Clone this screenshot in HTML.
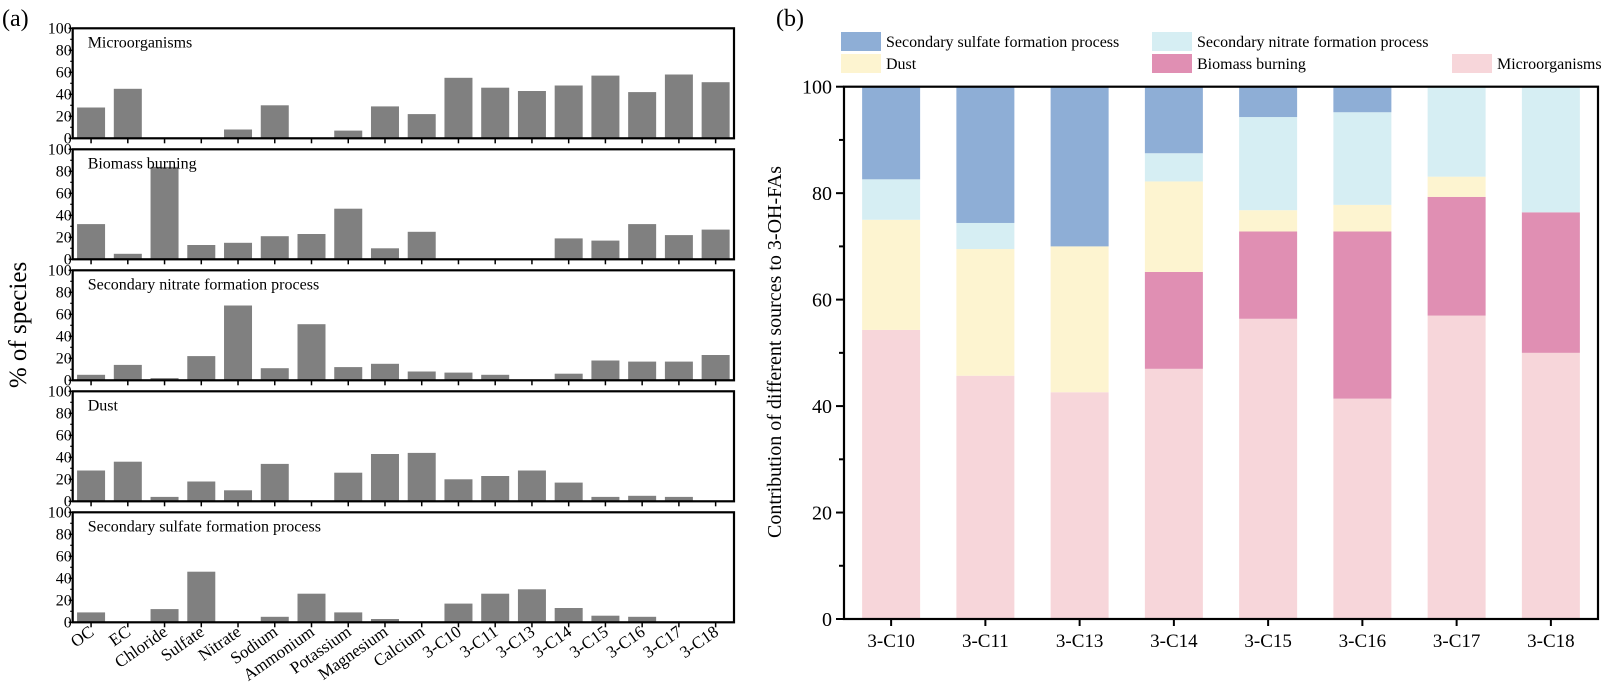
<!DOCTYPE html>
<html><head><meta charset="utf-8"><style>
html,body{margin:0;padding:0;background:#fff;}
svg{display:block;font-family:"Liberation Serif",serif;}
</style></head><body>
<svg id="chart" width="1613" height="688" viewBox="0 0 1613 688" xmlns="http://www.w3.org/2000/svg">
<text x="2" y="26" font-size="24">(a)</text>
<text x="776" y="26" font-size="24">(b)</text>
<text transform="translate(26,325) rotate(-90)" text-anchor="middle" font-size="25">% of species</text>
<text transform="translate(781,352) rotate(-90)" text-anchor="middle" font-size="20">Contribution of different sources to 3-OH-FAs</text>
<g id="left"></g><g id="right"></g><g id="legend"></g>
</svg>
<script>
const species = ["OC","EC","Chloride","Sulfate","Nitrate","Sodium","Ammonium","Potassium","Magnesium","Calcium","3-C10","3-C11","3-C13","3-C14","3-C15","3-C16","3-C17","3-C18"];
const panelTitles = ["Microorganisms","Biomass burning","Secondary nitrate formation process","Dust","Secondary sulfate  formation process"];
const microProfile = [28,45,0,0,8,30,0,7,29,22,55,46,43,48,57,42,58,51];
const biomassProfile = [32,5,84,13,15,21,23,46,10,25,0,0,0,19,17,32,22,27];
const nitrateProfile = [5,14,2,22,68,11,51,12,15,8,7,5,0,6,18,17,17,23];
const dustProfile = [28,36,4,18,10,34,0,26,43,44,20,23,28,17,4,5,4,0];
const sulfateProfile = [9,0,12,46,0,5,26,9,3,0,17,26,30,13,6,5,0,0];
const leftTicks = [0,20,40,60,80,100];

const acids = ["3-C10","3-C11","3-C13","3-C14","3-C15","3-C16","3-C17","3-C18"];
const microShare = [54.3,45.7,42.6,47,56.4,41.4,57,50];
const biomassShare = [0,0,0,18.2,16.4,31.4,22.3,26.4];
const dustShare = [20.7,23.8,27.4,17,4,5,3.8,0];
const nitrateShare = [7.6,4.9,0,5.3,17.5,17.4,16.9,23.6];
const sulfateShare = [17.4,25.6,30,12.5,5.7,4.8,0,0];
const rightTicks = [0,20,40,60,80,100];

const NS="http://www.w3.org/2000/svg";
function mk(parent,tag,attrs,text){const e=document.createElementNS(NS,tag);for(const k in attrs)e.setAttribute(k,attrs[k]);if(text!==undefined)e.textContent=text;parent.appendChild(e);return e;}

const L=document.getElementById('left');
const lx0=72.7,lx1=734,ph=110,pTop=[28.3,149.3,270.3,391.3,512.3];
const profiles=[microProfile,biomassProfile,nitrateProfile,dustProfile,sulfateProfile];
const bw=(lx1-lx0)/species.length;
const lxc=i=>lx0+bw*(i+0.5);
profiles.forEach((prof,p)=>{
  const top=pTop[p],bot=top+ph;
  const ly=v=>bot-v/100*ph;
  const g=mk(L,'g',{});
  
  
  prof.forEach((v,i)=>{
    if(v<=0)return;
    const r=mk(g,'rect',{x:lxc(i)-14,y:ly(v),width:28,height:bot-ly(v),fill:'#808080'});
    
    
  });
  const fr=mk(g,'rect',{x:lx0,y:top,width:lx1-lx0,height:ph,fill:'none',stroke:'#000','stroke-width':2.2});
  
  
  const t=mk(g,'text',{x:lx0+15,y:top+19,'font-size':16},panelTitles[p]);
  
  
  leftTicks.forEach(v=>{
    mk(g,'line',{x1:lx0-4,x2:lx0,y1:ly(v),y2:ly(v),stroke:'#000','stroke-width':1.5});
    const tl=mk(g,'text',{x:lx0-1,y:ly(v)+5,'font-size':16,'text-anchor':'end'},v);
    
    
  });
  for(let v=10;v<100;v+=20)mk(g,'line',{x1:lx0-2.5,x2:lx0,y1:ly(v),y2:ly(v),stroke:'#000','stroke-width':1.2});
  species.forEach((s,i)=>mk(g,'line',{x1:lxc(i),x2:lxc(i),y1:bot,y2:bot+5,stroke:'#000','stroke-width':1.5}));
});
species.forEach((s,i)=>{
  const x=lxc(i)+4,y=pTop[4]+ph+12;
  const t=mk(L,'text',{transform:`translate(${x},${y}) rotate(-35)`,'text-anchor':'end','font-size':17},s);
  
  
});

const R=document.getElementById('right');
const rx0=844,rx1=1598,ry0=619,ry1=86.7;
const ry=v=>ry0-(v/100)*(ry0-ry1);
const rbw=(rx1-rx0)/acids.length;
const rxc=i=>rx0+rbw*(i+0.5);
const series=[["microorganisms",microShare,"#f7d6da"],["biomass-burning",biomassShare,"#e08fb3"],["dust",dustShare,"#fdf4d0"],["secondary-nitrate",nitrateShare,"#d6eef3"],["secondary-sulfate",sulfateShare,"#8eaed6"]];
acids.forEach((a,i)=>{
  let base=0;
  series.forEach(([nm,arr,col])=>{
    const v=arr[i];
    if(v>0){
      const r=mk(R,'rect',{x:rxc(i)-29,y:ry(base+v),width:58,height:ry(base)-ry(base+v),fill:col});
      
      
    }
    base+=v;
  });
  mk(R,'line',{x1:rxc(i),x2:rxc(i),y1:ry0,y2:ry0+7,stroke:'#000','stroke-width':2});
  const t=mk(R,'text',{x:rxc(i),y:ry0+28,'font-size':19,'text-anchor':'middle'},a);
  
  
});
const rf=mk(R,'rect',{x:rx0,y:ry1,width:rx1-rx0,height:ry0-ry1,fill:'none',stroke:'#000','stroke-width':2.2});


rightTicks.forEach(v=>{
  mk(R,'line',{x1:rx0-8,x2:rx0,y1:ry(v),y2:ry(v),stroke:'#000','stroke-width':2});
  const t=mk(R,'text',{x:rx0-12,y:ry(v)+7,'font-size':20,'text-anchor':'end'},v);
  
  
});
for(let v=10;v<100;v+=20)mk(R,'line',{x1:rx0-5,x2:rx0,y1:ry(v),y2:ry(v),stroke:'#000','stroke-width':2});

const G=document.getElementById('legend');
const legendItems=[["Secondary sulfate formation process","#8eaed6",841,32],["Secondary nitrate formation process","#d6eef3",1152,32],["Dust","#fdf4d0",841,54],["Biomass burning","#e08fb3",1152,54],["Microorganisms","#f7d6da",1452,54]];
legendItems.forEach(([lab,col,x,y])=>{
  const g=mk(G,'g',{});
  
  
  mk(g,'rect',{x:x,y:y,width:40,height:19,fill:col});
  mk(g,'text',{x:x+45,y:y+15,'font-size':16},lab);
});
</script>
</body></html>
